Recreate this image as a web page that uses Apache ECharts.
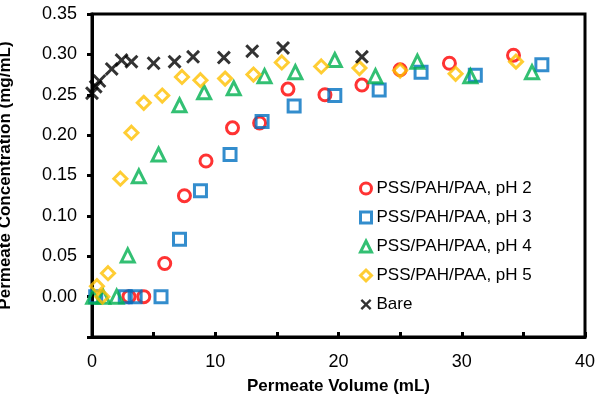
<!DOCTYPE html>
<html>
<head>
<meta charset="utf-8">
<script src="https://cdn.jsdelivr.net/npm/echarts@6/dist/echarts.min.js"></script>
<style>html,body{margin:0;padding:0;background:#fff;}#c{width:601px;height:401px;}</style>
</head>
<body>
<div id="c"></div>
<script>
// Data: [Permeate Volume (mL), Permeate Concentration (mg/mL)]
const ph2 = [[3.0,0],[4.2,0],[5.9,0.041],[7.5,0.125],[9.25,0.168],[11.4,0.209],[13.6,0.215],[15.9,0.257],[18.9,0.250],[21.9,0.262],[25.0,0.281],[29.0,0.289],[34.2,0.299]];
const ph3 = [[0.3,0],[2.7,0],[3.5,0],[5.6,0],[7.1,0.071],[8.8,0.131],[11.2,0.176],[13.8,0.217],[16.4,0.236],[19.7,0.249],[23.3,0.256],[26.7,0.278],[31.1,0.274],[36.5,0.287]];
const ph4 = [[0.1,0],[0.9,0],[2.0,0],[2.9,0.051],[3.8,0.149],[5.4,0.176],[7.1,0.237],[9.1,0.253],[11.5,0.258],[14.0,0.273],[16.5,0.278],[19.7,0.293],[23.0,0.273],[26.4,0.291],[30.7,0.273],[35.7,0.278]];
const ph5 = [[0.4,0.013],[0.84,0],[1.3,0.029],[2.3,0.146],[3.2,0.203],[4.2,0.240],[5.7,0.249],[7.3,0.272],[8.8,0.268],[10.8,0.270],[13.1,0.275],[15.4,0.290],[18.6,0.285],[21.7,0.283],[25.0,0.280],[29.5,0.276],[34.4,0.291]];
const bare = [[0.0,0.252],[0.3,0.260],[0.6,0.267],[1.6,0.282],[2.4,0.293],[3.2,0.291],[5.0,0.289],[6.7,0.291],[8.2,0.297],[10.7,0.296],[13.0,0.304],[15.5,0.308],[21.9,0.297]];
const seriesNames = ['PSS/PAH/PAA, pH 2','PSS/PAH/PAA, pH 3','PSS/PAH/PAA, pH 4','PSS/PAH/PAA, pH 5','Bare'];
const xTitle = 'Permeate Volume (mL)';
const yTitle = 'Permeate Concentration (mg/mL)';

const X_PATH = 'path://M3,0 L10,7 L17,0 L20,3 L13,10 L20,17 L17,20 L10,13 L3,20 L0,17 L7,10 L0,3 Z';
const FONT = 'Liberation Sans, Arial, sans-serif';
const colors = ['#FF0000','#0070C0','#00B050','#FFC000','#000000'];
const symbols = ['circle','rect','triangle','diamond',X_PATH];

function hollow(i, data, size) {
  return {
    name: seriesNames[i], type: 'scatter', data: data, symbol: symbols[i], symbolSize: size,
    itemStyle: { color: 'rgba(0,0,0,0)', borderColor: colors[i], borderWidth: 3 },
    emphasis: { disabled: true }
  };
}

const legendData = seriesNames.map(function (n, i) {
  return i < 4
    ? { name: n, icon: symbols[i], itemStyle: { color: 'rgba(0,0,0,0)', borderColor: colors[i], borderWidth: 3 } }
    : { name: n, icon: symbols[i], itemStyle: { color: '#000', borderWidth: 0 } };
});

const chart = echarts.init(document.getElementById('c'), null, { renderer: 'canvas' });
chart.setOption({
  animation: false,
  backgroundColor: '#fff',
  grid: { left: 92, right: 16, top: 14, bottom: 64, outerBoundsMode: 'none', containLabel: false,
    show: true, borderColor: '#000', borderWidth: 3, backgroundColor: 'transparent' },
  xAxis: {
    type: 'value', min: 0, max: 40, interval: 5,
    name: xTitle, nameLocation: 'middle', nameGap: 41,
    nameTextStyle: { fontFamily: FONT, fontSize: 17, fontWeight: 'bold', color: '#000' },
    axisLine: { show: true, onZero: false, lineStyle: { color: '#000', width: 3 } },
    axisTick: { show: true, inside: true, length: 5, lineStyle: { color: '#000', width: 3 } },
    axisLabel: { fontFamily: FONT, fontSize: 18, color: '#000', margin: 16,
      formatter: function (v) { return v % 10 === 0 ? String(v) : ''; } },
    splitLine: { show: false }
  },
  yAxis: {
    type: 'value', min: -0.05, max: 0.35, interval: 0.05,
    name: yTitle, nameLocation: 'middle', nameGap: 78,
    nameTextStyle: { fontFamily: FONT, fontSize: 17, fontWeight: 'bold', color: '#000' },
    axisLine: { show: true, onZero: false, lineStyle: { color: '#000', width: 3 } },
    axisTick: { show: true, inside: false, length: 5, lineStyle: { color: '#000', width: 3 } },
    axisLabel: { fontFamily: FONT, fontSize: 18, color: '#000', margin: 15,
      formatter: function (v) { return v < -1e-9 ? '' : v.toFixed(2); } },
    splitLine: { show: false }
  },
  legend: {
    orient: 'vertical', left: 354, top: 175, itemGap: 12,
    itemWidth: 11, itemHeight: 11,
    textStyle: { fontFamily: FONT, fontSize: 17, color: '#000' },
    data: legendData
  },
  series: [
    hollow(0, ph2, 12),
    hollow(1, ph3, 12),
    hollow(2, ph4, 13),
    hollow(3, ph5, 13),
    { name: seriesNames[4], type: 'scatter', data: bare, symbol: X_PATH, symbolSize: 14,
      itemStyle: { color: '#000' }, emphasis: { disabled: true } }
  ]
});
</script>
</body>
</html>
